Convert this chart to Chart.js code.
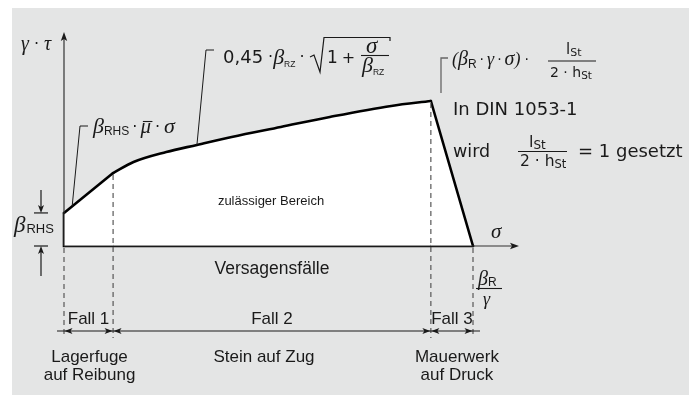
<!DOCTYPE html>
<html><head><meta charset="utf-8">
<script src="https://cdn.jsdelivr.net/npm/chart.js@4.4.1/dist/chart.umd.min.js"></script>
<style>html,body{margin:0;padding:0;background:#fff}canvas{display:block}</style>
</head><body>
<canvas id="c" width="689" height="397"></canvas>
<script>
// Fall 1: friction line  β_RHS + μ̄·σ  (σ, γ·τ)
const frictionSigma = [0, 12];
const frictionTau   = [22.8, 50.3];
// Fall 2: 0,45·β_RZ·sqrt(1+σ/β_RZ) envelope
const curveSigma = [12, 17, 25, 32.5, 41, 53, 65, 80, 89.7];
const curveTau   = [50.3, 57.9, 64.8, 69.7, 75.2, 82.1, 89, 96.6, 100];
// Fall 3: compression drop to β_R/γ
const dropSigma = [89.7, 100];
const dropTau   = [100, 0];
// base line and left edge
const baseSigma = [100, 0, 0];
const baseTau   = [0, 0, 22.8];
// failure-case boundaries on σ axis and the envelope height at each
const caseBounds = [0, 12, 89.7, 100];
const boundTop   = [0, 50.3, 100, 0];
const caseNames  = ['Fall 1', 'Fall 2', 'Fall 3'];
const caseDesc   = [['Lagerfuge', 'auf Reibung'], ['Stein auf Zug'], ['Mauerwerk', 'auf Druck']];
const betaRHS = 22.8;

const SANS = '"Liberation Sans", Arial, sans-serif';
const WIDE = '"DejaVu Sans", sans-serif';
const GRK  = '"Liberation Serif", "DejaVu Serif", serif';
const INK = '#1a1a1a';

function tri(ctx, x, y, dir, len = 8, hw = 3) {
  ctx.save(); ctx.translate(x, y);
  ctx.rotate({r: 0, l: Math.PI, u: -Math.PI / 2, d: Math.PI / 2}[dir]);
  ctx.beginPath(); ctx.moveTo(0, 0); ctx.lineTo(-len, -hw); ctx.lineTo(-len + 2, 0); ctx.lineTo(-len, hw); ctx.closePath();
  ctx.fill(); ctx.restore();
}
function line(ctx, pts) {
  ctx.beginPath(); ctx.moveTo(pts[0][0], pts[0][1]);
  for (let i = 1; i < pts.length; i++) ctx.lineTo(pts[i][0], pts[i][1]);
  ctx.stroke();
}
function t(ctx, s, x, y, font, align = 'left') {
  ctx.font = font; ctx.textAlign = align; ctx.textBaseline = 'alphabetic'; ctx.fillText(s, x, y);
}
// parts: [text, font, dy, gapBefore]
function run(ctx, x, y, parts) {
  ctx.textAlign = 'left'; ctx.textBaseline = 'alphabetic';
  for (const [s, f, dy = 0, gap = 0] of parts) {
    x += gap; ctx.font = f; ctx.fillText(s, x, y + dy); x += ctx.measureText(s).width;
  }
  return x;
}

const decor = {
  id: 'decor',
  beforeDraw(chart) {
    const ctx = chart.ctx;
    ctx.save(); ctx.fillStyle = '#e4e5e5'; ctx.fillRect(12, 8, 677, 387); ctx.restore();
  },
  afterDatasetsDraw(chart) {
    const ctx = chart.ctx, xs = chart.scales.x, ys = chart.scales.y;
    const X = v => xs.getPixelForValue(v), Y = v => ys.getPixelForValue(v);
    const x0 = X(0), yb = Y(0);
    ctx.save();
    ctx.fillStyle = INK; ctx.strokeStyle = '#333';
    // axes
    ctx.lineWidth = 1.2;
    line(ctx, [[x0, yb], [x0, 38]]); tri(ctx, x0, 32, 'u', 9, 3.2);
    line(ctx, [[x0, yb], [513, yb]]); tri(ctx, 519, yb, 'r', 9, 3.2);
    // dashed case boundaries
    ctx.strokeStyle = '#4a4a4a'; ctx.lineWidth = 1.1; ctx.setLineDash([5, 4]);
    caseBounds.forEach((b, i) => line(ctx, [[X(b), Y(boundTop[i]) + 2], [X(b), 338]]));
    ctx.setLineDash([]);
    // dimension chain
    ctx.strokeStyle = INK; ctx.lineWidth = 1.2;
    const yd = 331;
    line(ctx, [[X(caseBounds[0]) - 7, yd], [X(caseBounds[3]) + 7, yd]]);
    for (let i = 0; i < 3; i++) {
      tri(ctx, X(caseBounds[i]) + 0.5, yd, 'l');
      tri(ctx, X(caseBounds[i + 1]) - 0.5, yd, 'r');
    }
    // β_RHS dimension
    const xr = 41, yt = Y(betaRHS);
    line(ctx, [[34, yt], [48, yt]]); line(ctx, [[34, yb], [48, yb]]);
    line(ctx, [[xr, 190], [xr, yt - 4]]); tri(ctx, xr, yt, 'd', 8, 3);
    line(ctx, [[xr, 276], [xr, yb + 4]]); tri(ctx, xr, yb, 'u', 8, 3);
    // leaders
    ctx.lineWidth = 1;
    line(ctx, [[X(2), Y(27.5)], [80, 126], [88, 126]]);
    line(ctx, [[X(32.5), Y(69.7)], [206, 50], [214, 50]]);
    ctx.strokeStyle = '#666'; ctx.lineWidth = 1.3;
    line(ctx, [[441, 93], [441, 58], [448, 58]]);

    ctx.fillStyle = INK; ctx.strokeStyle = INK;
    // axis labels
    run(ctx, 21, 50, [['γ', 'italic 20px ' + GRK], ['·', '16px ' + WIDE, -1, 5], ['τ', 'italic 20px ' + GRK, 0, 5]]);
    t(ctx, 'σ', 491, 238, 'italic 21px ' + GRK);
    run(ctx, 14, 232, [['β', 'italic 23px ' + GRK], ['RHS', '13px ' + SANS, 1, 1]]);
    // β_R / γ
    run(ctx, 478, 285, [['β', 'italic 20px ' + GRK], ['R', '12px ' + SANS, 1, 0]]);
    ctx.lineWidth = 1.1; line(ctx, [[476, 288.5], [502, 288.5]]);
    t(ctx, 'γ', 483, 305, 'italic 18px ' + GRK);

    // formula 1
    let e = run(ctx, 93, 133, [['β', 'italic 22px ' + GRK], ['RHS', '12px ' + SANS, 2, 0], ['·', '16px ' + WIDE, -1, 3]]);
    const mx = e + 3;
    e = run(ctx, mx, 133, [['μ', 'italic 21px ' + GRK]]);
    ctx.lineWidth = 1.1; line(ctx, [[mx + 2.5, 121.5], [e + 1.5, 121.5]]);
    run(ctx, e, 133, [['·', '16px ' + WIDE, -1, 4], ['σ', 'italic 22px ' + GRK, 0, 4]]);

    // formula 2
    run(ctx, 223, 63, [['0,45', '18px ' + WIDE], ['·', '16px ' + WIDE, -1, 5], ['β', 'italic 22px ' + GRK, 1, 0], ['RZ', '8.5px ' + SANS, 4, 0], ['·', '16px ' + WIDE, -1, 4]]);
    ctx.lineWidth = 1.2; line(ctx, [[310, 57], [314, 55], [320, 72], [324, 37.5], [390, 37.5], [390, 41]]);
    run(ctx, 327, 63, [['1', '17px ' + WIDE], ['+', '16px ' + WIDE, 0, 4]]);
    t(ctx, 'σ', 366, 53, 'italic 23px ' + GRK);
    ctx.lineWidth = 1.1; line(ctx, [[361, 55.5], [389, 55.5]]);
    run(ctx, 362, 72, [['β', 'italic 22px ' + GRK], ['RZ', '8.5px ' + SANS, 3, 0]]);

    // formula 3
    run(ctx, 452, 65, [['(', 'italic 18px ' + GRK], ['β', 'italic 20px ' + GRK], ['R', '12px ' + SANS, 3, 0],
      ['·', '14px ' + WIDE, -1, 3], ['γ', 'italic 18px ' + GRK, 0, 3], ['·', '14px ' + WIDE, -1, 3],
      ['σ', 'italic 20px ' + GRK, 0, 3], [')', 'italic 18px ' + GRK, 0, 0], ['·', '14px ' + WIDE, -1, 4]]);
    run(ctx, 566, 54, [['l', '15px ' + WIDE], ['St', '11px ' + WIDE, 2, 0]]);
    ctx.lineWidth = 1.1; line(ctx, [[548, 61], [596, 61]]);
    run(ctx, 550, 77, [['2 · h', '14px ' + WIDE], ['St', '10.5px ' + WIDE, 2, 0]]);

    // DIN note
    t(ctx, 'In DIN 1053-1', 453, 115, '18px ' + WIDE);
    t(ctx, 'wird', 453, 157, '17.5px ' + WIDE);
    run(ctx, 529, 147, [['l', '16px ' + WIDE], ['St', '12px ' + WIDE, 2, 0]]);
    ctx.lineWidth = 1.2; line(ctx, [[518, 151.5], [567, 151.5]]);
    run(ctx, 520, 166, [['2 · h', '15.5px ' + WIDE], ['St', '11.5px ' + WIDE, 2, 0]]);
    t(ctx, '= 1 gesetzt', 578, 157, '18px ' + WIDE);

    // region labels
    t(ctx, 'zulässiger Bereich', 271, 205, '13px ' + SANS, 'center');
    t(ctx, 'Versagensfälle', 272, 274, '17.5px ' + SANS, 'center');
    const descDx = [1, -8, 5];
    for (let i = 0; i < 3; i++) {
      const cx = (X(caseBounds[i]) + X(caseBounds[i + 1])) / 2;
      t(ctx, caseNames[i], cx, 324, '17px ' + SANS, 'center');
      caseDesc[i].forEach((s, k) => t(ctx, s, cx + descDx[i], 362 + k * 18, '17px ' + SANS, 'center'));
    }
    ctx.restore();
  }
};

const pts = (xs, ys) => xs.map((x, i) => ({x, y: ys[i]}));
const common = { showLine: true, borderColor: '#000', borderWidth: 2.6, borderJoinStyle: 'miter',
  borderCapStyle: 'round', pointRadius: 0, clip: false, backgroundColor: '#ffffff' };

new Chart(document.getElementById('c'), {
  type: 'scatter',
  data: { datasets: [
    { ...common, data: pts(frictionSigma, frictionTau), fill: 'origin', tension: 0 },
    { ...common, data: pts(curveSigma, curveTau), fill: 'origin', cubicInterpolationMode: 'monotone' },
    { ...common, data: pts(dropSigma, dropTau), fill: 'origin', tension: 0 },
    { ...common, data: pts(baseSigma, baseTau), fill: false, tension: 0 }
  ]},
  options: {
    responsive: false, devicePixelRatio: 1, animation: false,
    layout: { padding: { left: 64, right: 216, top: 101, bottom: 151 } },
    scales: {
      x: { type: 'linear', min: 0, max: 100, display: false },
      y: { type: 'linear', min: 0, max: 100, display: false }
    },
    plugins: { legend: { display: false }, tooltip: { enabled: false } },
    events: []
  },
  plugins: [decor]
});
</script>
</body></html>
